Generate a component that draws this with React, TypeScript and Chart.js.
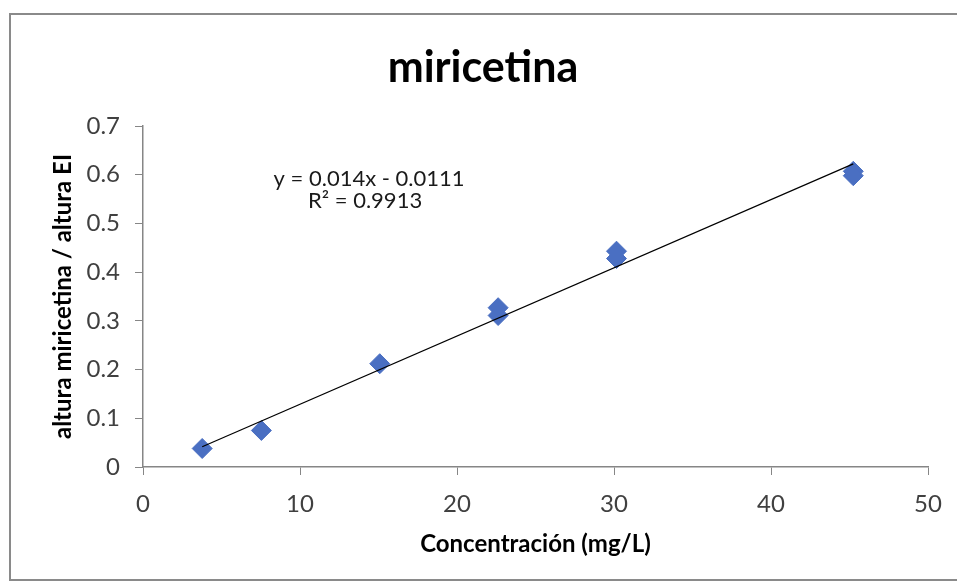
import React, { useEffect, useRef } from "react";
import { Chart, registerables } from "chart.js";

Chart.register(...registerables);

const chartTitle = "miricetina";
const xAxisTitle = "Concentración (mg/L)";
const yAxisTitle = "altura miricetina / altura EI";

const concentrations = [3.77, 7.54, 15.08, 22.62, 22.62, 30.16, 30.16, 45.24, 45.24];
const ratios = [0.038, 0.075, 0.212, 0.327, 0.311, 0.443, 0.428, 0.607, 0.598];

const trendSlope = 0.014;
const trendIntercept = -0.0111;
const equationLines = ["y = 0.014x - 0.0111", "R² = 0.9913"];

const xTicks = [0, 10, 20, 30, 40, 50];
const yTicks = [0, 0.1, 0.2, 0.3, 0.4, 0.5, 0.6, 0.7];

const FONT = "Lato, 'Liberation Sans', sans-serif";

export default function App() {
  const ref = useRef<HTMLCanvasElement | null>(null);

  useEffect(() => {
    document.body.style.margin = "0";
    const canvas = ref.current;
    if (!canvas) return;

    const xMin = Math.min(...concentrations);
    const xMax = Math.max(...concentrations);
    const trend = [
      { x: xMin, y: trendSlope * xMin + trendIntercept },
      { x: xMax, y: trendSlope * xMax + trendIntercept },
    ];

    const frame = {
      id: "frame",
      beforeDraw(chart: any) {
        const ctx = chart.ctx;
        ctx.save();
        ctx.fillStyle = "#ffffff";
        ctx.fillRect(0, 0, chart.width, chart.height);
        ctx.strokeStyle = "#8a8a8a";
        ctx.lineWidth = 2;
        ctx.strokeRect(10, 14, chart.width + 10, 566);
        ctx.restore();
      },
      afterDraw(chart: any) {
        const ctx = chart.ctx;
        const xs = chart.scales.x;
        const ys = chart.scales.y;
        ctx.save();
        ctx.fillStyle = "#000000";
        ctx.font = `bold 43px ${FONT}`;
        ctx.textAlign = "center";
        ctx.textBaseline = "middle";
        ctx.fillText(chartTitle, 483, 68);

        ctx.fillStyle = "#1a1a1a";
        ctx.font = `22px ${FONT}`;
        const cx = xs.getPixelForValue(14.4);
        ctx.fillText(equationLines[0], cx, ys.getPixelForValue(0.592));
        ctx.fillText(equationLines[1], cx - 4, ys.getPixelForValue(0.546));
        ctx.restore();
      },
    };

    const chart = new Chart(canvas, {
      type: "scatter",
      data: {
        datasets: [
          {
            label: "datos",
            data: concentrations.map((c, i) => ({ x: c, y: ratios[i] })),
            pointStyle: "rectRot",
            pointRadius: 10,
            backgroundColor: "#4A6FC2",
            borderColor: "#4A6FC2",
            borderWidth: 1,
            order: 1,
          },
          {
            label: "tendencia",
            type: "line",
            data: trend,
            borderColor: "#000000",
            borderWidth: 1.2,
            pointRadius: 0,
            fill: false,
            order: 0,
          } as any,
        ],
      },
      options: {
        responsive: false,
        animation: false,
        layout: { padding: { left: 10, right: 29, top: 126, bottom: 0 } },
        plugins: {
          legend: { display: false },
          tooltip: { enabled: false },
          title: { display: false },
        },
        scales: {
          x: {
            type: "linear",
            min: 0,
            max: 50,
            afterBuildTicks: (s: any) => {
              s.ticks = xTicks.map((v) => ({ value: v }));
            },
            afterFit: (s: any) => {
              s.height = 117;
            },
            grid: {
              display: true,
              drawOnChartArea: false,
              drawTicks: true,
              tickLength: 8,
              color: "#868686",
            },
            border: { display: true, color: "#868686", width: 1.5 },
            ticks: {
              color: "#404040",
              font: { family: FONT, size: 24 },
              padding: 15,
              maxRotation: 0,
            },
            title: {
              display: true,
              text: xAxisTitle,
              color: "#000000",
              font: { family: FONT, size: 24, weight: "bold" },
              padding: { top: 0, bottom: 25 },
            },
          },
          y: {
            type: "linear",
            min: 0,
            max: 0.7,
            afterBuildTicks: (s: any) => {
              s.ticks = yTicks.map((v) => ({ value: v }));
            },
            afterFit: (s: any) => {
              s.width = 133;
            },
            grid: {
              display: true,
              drawOnChartArea: false,
              drawTicks: true,
              tickLength: 8,
              color: "#868686",
            },
            border: { display: true, color: "#868686", width: 1.5 },
            ticks: {
              color: "#404040",
              font: { family: FONT, size: 24 },
              padding: 15,
              callback: (v: any) => String(Math.round(Number(v) * 10) / 10),
            },
            title: {
              display: true,
              text: yAxisTitle,
              color: "#000000",
              font: { family: FONT, size: 24, weight: "bold" },
              padding: { top: 39, bottom: 0 },
            },
          },
        },
      },
      plugins: [frame],
    });

    return () => chart.destroy();
  }, []);

  return <canvas ref={ref} width={957} height={584} style={{ display: "block" }} />;
}
